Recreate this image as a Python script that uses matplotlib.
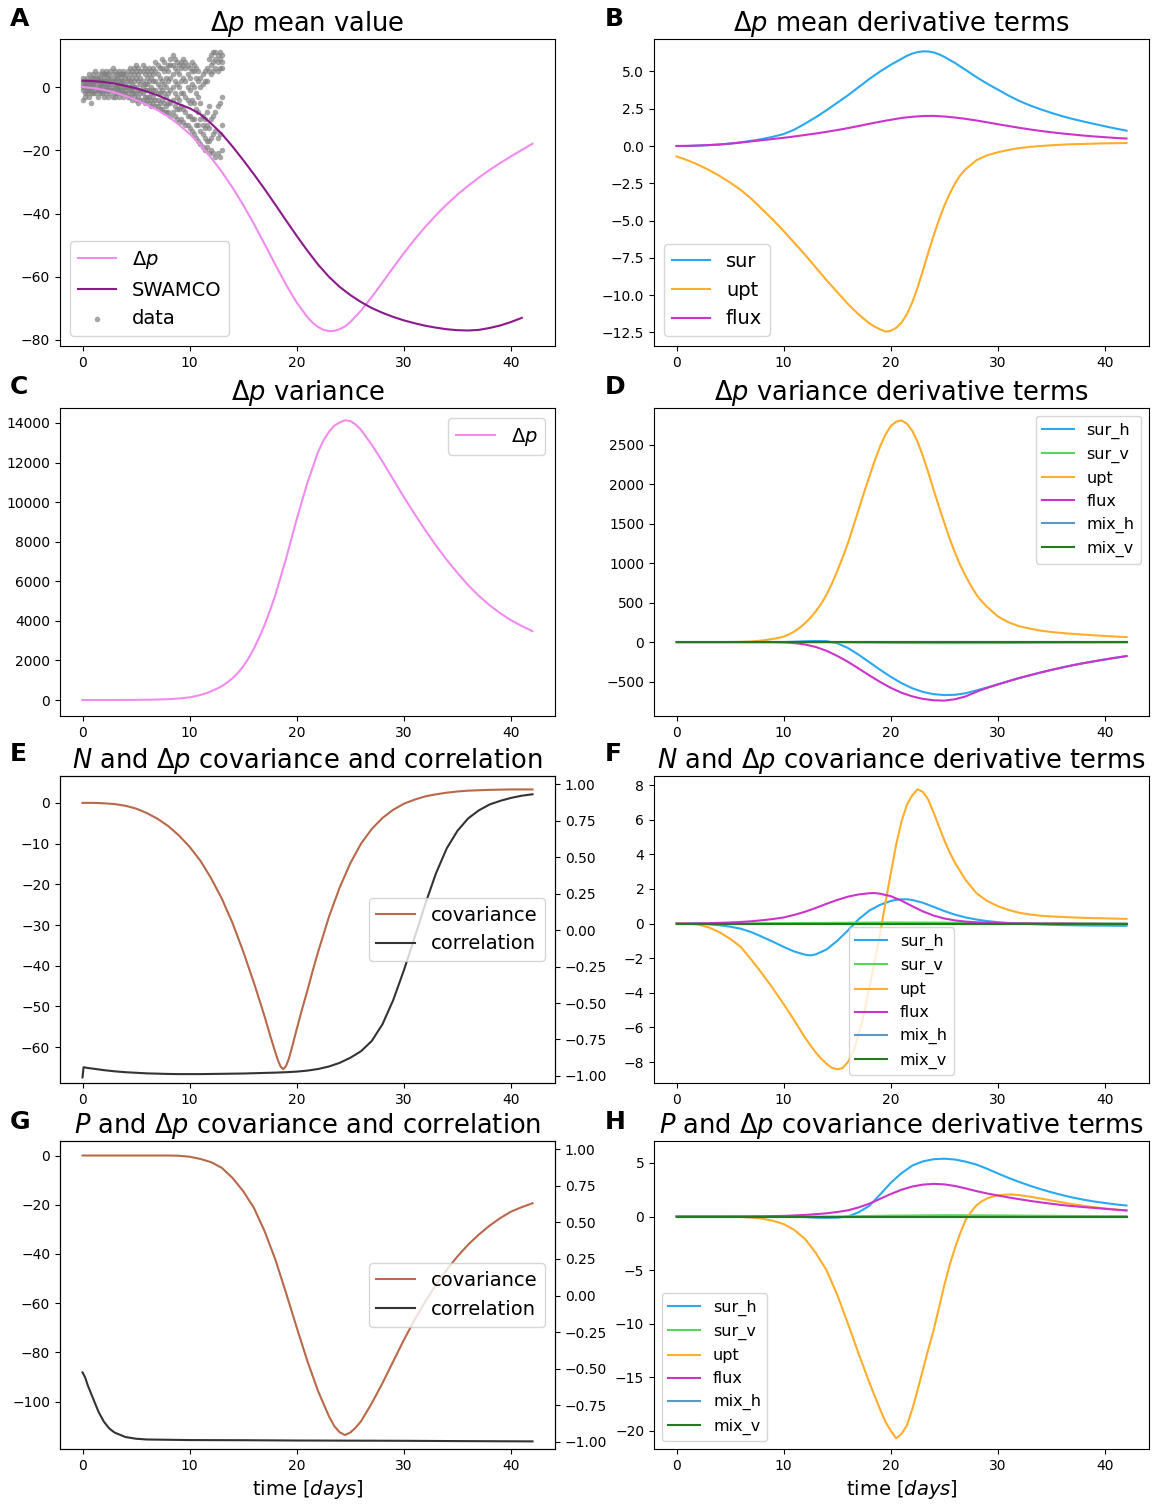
import numpy as np
import matplotlib.pyplot as plt

# time axis shared by the model outputs (days)
days = np.arange(0, 43)

# ---- A: mean value ----
dp_mean = [0, -0.3, -0.9, -1.7, -2.8, -4.1, -5.6, -7.3, -9.3, -11.9,
           -14.8, -18.3, -22.3, -26.8, -31.8, -37.3, -43.3, -49.7, -56.2, -62.5,
           -68.2, -72.8, -75.9, -77.2, -76.6, -74.3, -70.7, -66.4, -61.8, -57.1,
           -52.5, -48.2, -44.2, -40.5, -37.1, -34.0, -31.2, -28.6, -26.2, -24.0,
           -21.9, -19.9, -17.9]
dp_mean_extra = {21.5: -74.6, 22.5: -76.8, 23.5: -77.1, 24.5: -75.7}
swamco_t = np.arange(0, 42)
swamco = [2.0, 1.9, 1.6, 1.1, 0.4, -0.4, -1.4, -2.6, -4.0, -5.4,
          -6.7, -8.6, -11.5, -14.8, -18.8, -23.1, -27.6, -32.3, -37.2, -42.2,
          -47.1, -51.8, -56.2, -60.0, -63.2, -65.8, -68.0, -69.9, -71.4, -72.7,
          -73.8, -74.7, -75.5, -76.1, -76.6, -76.9, -77.0, -76.8, -76.2, -75.4,
          -74.3, -73.0]

# observations, sampled every 0.2 days over the first 13 days
obs_t = np.round(np.arange(0, 13.01, 0.2), 1)
obs_1 = [3, 2, 3, 4, 3, 4, 5, 4, 3, 5, 4, 5, 4, 5, 6, 5, 4, 5, 4, 5, 4, 5, 6, 5, 6, 7, 6, 5, 7, 6,
         5, 6, 5, 6, 8, 7, 6, 9, 8, 6, 7, 9, 10, 9, 8, 7, 8, 9, 8, 7, 6, 8, 7, 6, 5, 3, 4, 5, 6, 9,
         10, 11, 11, 10, 11, 10]
obs_2 = [2, 1, 2, 2, 2, 3, 3, 3, 2, 4, 3, 4, 3, 3, 4, 3, 3, 4, 3, 4, 3, 3, 4, 3, 4, 5, 4, 3, 5, 4,
         3, 4, 3, 4, 5, 4, 3, 6, 5, 3, 5, 7, 7, 6, 5, 4, 6, 7, 6, 4, 3, 5, 5, 3, 2, 0, 1, 2, 2, 5,
         7, 8, 9, 8, 9, 8]
obs_3 = [1, 1, 1, 1, 1, 2, 2, 2, 1, 2, 2, 2, 1, 2, 2, 2, 1, 2, 2, 2, 1, 2, 2, 1, 2, 3, 2, 1, 2, 1,
         1, 2, 0, 2, 2, 1, 0, 2, 1, 0, 2, 3, 4, 2, 1, 0, 2, 3, 2, 0, -1, 1, 0, -2, -3, -5, -9, -10, -8, -6,
         4, 5, 6, 5, 6, 6]
obs_4 = [0, 0, 0, 0, -1, 1, 1, 0, 0, 1, 1, 0, 0, 1, 0, 0, 0, 0, 1, 0, 0, 0, 0, -1, 0, 0, -1, -1, 0, -1,
         -1, -1, -2, -1, -1, -2, -2, -1, -2, -3, -2, -1, 0, -2, -3, -4, -2, -2, -3, -4, -5, -4, -5, -7, -8,
         -10, -12, -13, -12, -13, -10, -9, -8, -6, -5, -3]
obs_5 = [-1, -2, -1, -1, -2, 0, -1, -1, -1, 0, -1, -1, -1, -1, -1, -2, -1, -1, -1, -2, -1, -2, -1, -2,
         -2, -2, -3, -2, -2, -3, -3, -3, -4, -3, -4, -4, -5, -4, -5, -6, -5, -5, -4, -6, -7, -7, -6, -7,
         -8, -9, -9, -10, -10, -12, -12, -14, -15, -16, -17, -17, -16, -15, -14, -16, -15, -12]
obs_6 = [-4, -3, -2, -3, -5, -2, -2, -3, -2, -2, -3, -2, -3, -2, -3, -3, -2, -3, -2, -3, -2, -3, -3, -4,
         -3, -4, -5, -4, -4, -5, -4, -5, -6, -5, -6, -6, -7, -7, -8, -8, -8, -9, -8, -9, -10, -11, -10,
         -11, -12, -12, -13, -14, -15, -16, -17, -18, -19, -20, -19, -21, -20, -21, -22, -21, -22, -20]

# ---- B: mean derivative terms ----
b_sur = [0, 0.0, 0.03, 0.06, 0.1, 0.16, 0.25, 0.35, 0.47, 0.62,
         0.8, 1.1, 1.5, 1.93, 2.4, 2.9, 3.4, 3.95, 4.5, 5.0,
         5.45, 5.85, 6.2, 6.35, 6.28, 5.98, 5.57, 5.1, 4.62, 4.18,
         3.78, 3.38, 3.02, 2.72, 2.46, 2.22, 2.0, 1.81, 1.64, 1.48,
         1.32, 1.17, 1.03]
b_sur_extra = {21.5: 6.05, 22.5: 6.3, 23.5: 6.34, 24.5: 6.15}
b_upt = [-0.7, -0.95, -1.25, -1.6, -2.0, -2.45, -2.95, -3.55, -4.25, -4.95,
         -5.7, -6.5, -7.3, -8.15, -9.0, -9.8, -10.6, -11.3, -11.9, -12.3,
         -12.4, -11.85, -10.5, -8.35, -6.0, -4.0, -2.5, -1.55, -0.95, -0.62,
         -0.42, -0.26, -0.14, -0.06, 0.0, 0.05, 0.09, 0.12, 0.14, 0.16,
         0.18, 0.19, 0.2]
b_upt_extra = {18.5: -12.12, 19.5: -12.45, 20.5: -12.2, 21.5: -11.3, 22.5: -9.5,
               23.5: -7.15, 24.5: -4.95, 25.5: -3.2, 26.5: -1.95}
b_flux = [0, 0.01, 0.03, 0.06, 0.1, 0.16, 0.23, 0.31, 0.39, 0.47,
          0.55, 0.64, 0.74, 0.84, 0.95, 1.07, 1.2, 1.34, 1.49, 1.63,
          1.76, 1.88, 1.96, 2.01, 2.02, 1.98, 1.91, 1.82, 1.71, 1.59,
          1.46, 1.34, 1.22, 1.11, 1.01, 0.92, 0.84, 0.77, 0.7, 0.64,
          0.59, 0.54, 0.5]

# ---- C: variance ----
c_var = [0, 0, 1, 2, 4, 8, 14, 24, 42, 75,
         135, 250, 440, 700, 1100, 1700, 2600, 3800, 5300, 7150,
         9150, 11000, 12550, 13550, 14030, 14100, 13650, 12900, 12050, 11150,
         10250, 9400, 8580, 7800, 7080, 6420, 5800, 5260, 4790, 4380,
         4030, 3740, 3480]
c_var_extra = {11.5: 335, 12.5: 560, 13.5: 880, 14.5: 1370, 15.5: 2110, 16.5: 3170,
               17.5: 4520, 22.5: 13130, 23.5: 13860, 24.5: 14135, 25.5: 13920}

# ---- D: variance derivative terms ----
d_sur_h = [0, 0, 0, 0, 0, 0, 0, 0, 0, 0,
           0, 5, 10, 14, 12, -15, -75, -160, -255, -350,
           -440, -520, -585, -632, -660, -672, -668, -648, -612, -575,
           -535, -495, -455, -420, -385, -352, -322, -293, -267, -243,
           -220, -198, -178]
d_upt = [0, 0, 0, 0, 0, 1, 3, 8, 20, 40,
         70, 135, 240, 390, 600, 900, 1255, 1680, 2100, 2480,
         2740, 2810, 2680, 2360, 1930, 1510, 1130, 835, 600, 445,
         325, 250, 200, 170, 145, 128, 115, 104, 95, 86,
         77, 70, 63]
d_upt_extra = {9.5: 53, 10.5: 98, 11.5: 182, 12.5: 308, 13.5: 485, 14.5: 740, 15.5: 1070,
               16.5: 1465, 17.5: 1895, 18.5: 2300, 19.5: 2630, 20.5: 2795, 21.5: 2770,
               22.5: 2540, 23.5: 2150, 24.5: 1715, 25.5: 1310, 26.5: 970, 27.5: 710, 28.5: 515}
d_flux = [0, 0, 0, 0, 0, 0, 0, 0, 0, 0,
          -3, -12, -30, -62, -110, -175, -250, -335, -422, -505,
          -580, -642, -688, -720, -738, -742, -725, -688, -630, -580,
          -537, -495, -455, -420, -385, -352, -322, -293, -267, -243,
          -220, -198, -178]
d_sur_v_t = [0, 10, 15, 20, 25, 30, 35, 42]
d_sur_v = [0, 0, -3, -10, -14, -12, -8, -4]
d_mix_t = [0, 42]
d_mix_h = [0, 0]
d_mix_v = [0, 0]

# ---- E: N and dp covariance / correlation ----
e_cov = [0, 0, -0.1, -0.3, -0.7, -1.4, -2.5, -3.9, -5.7, -8.0,
         -10.8, -14.2, -18.5, -23.5, -29.5, -36.5, -44.2, -52.5, -61.3, -64.6,
         -55.5, -46.0, -36.5, -28.0, -20.8, -14.8, -10.0, -6.4, -3.7, -1.7,
         -0.2, 0.8, 1.6, 2.1, 2.5, 2.8, 3.0, 3.1, 3.2, 3.25,
         3.3, 3.3, 3.3]
e_cov_extra = {16.5: -48.3, 17.5: -57.0, 18.25: -63.3, 18.5: -64.8, 18.75: -65.4,
               19.25: -62.9, 19.5: -60.6, 20.5: -50.6, 21.5: -41.1}
e_cor_t = [0, 0.1, 0.5] + list(range(1, 43))
e_cor = [-1.01, -0.94, -0.945, -0.95, -0.96, -0.968, -0.974, -0.978, -0.982, -0.984,
         -0.986, -0.987, -0.987, -0.987, -0.986, -0.985, -0.984, -0.983, -0.981, -0.979,
         -0.977, -0.974, -0.97, -0.963, -0.952, -0.935, -0.91, -0.875, -0.83, -0.76,
         -0.645, -0.48, -0.275, -0.05, 0.18, 0.39, 0.56, 0.68, 0.765, 0.82,
         0.86, 0.885, 0.905, 0.92, 0.93]

# ---- F: N and dp covariance derivative terms ----
f_sur_h = [0, 0, -0.01, -0.04, -0.1, -0.18, -0.3, -0.5, -0.77, -1.05,
           -1.35, -1.62, -1.8, -1.78, -1.5, -1.0, -0.4, 0.25, 0.75, 1.08,
           1.3, 1.4, 1.36, 1.2, 0.96, 0.72, 0.51, 0.35, 0.23, 0.14,
           0.08, 0.03, 0.0, -0.03, -0.05, -0.07, -0.09, -0.1, -0.11, -0.12,
           -0.12, -0.13, -0.13]
f_sur_h_extra = {12.5: -1.84, 20.5: 1.37, 21.5: 1.4}
f_upt = [0, 0, -0.06, -0.22, -0.5, -0.88, -1.35, -2.1, -2.9, -3.75,
         -4.65, -5.6, -6.6, -7.45, -8.1, -8.42, -8.0, -6.4, -3.7, -0.6,
         2.9, 5.9, 7.4, 7.6, 6.4, 4.8, 3.5, 2.5, 1.75, 1.3,
         1.0, 0.78, 0.62, 0.52, 0.45, 0.41, 0.38, 0.35, 0.33, 0.31,
         0.3, 0.28, 0.27]
f_upt_extra = {13.5: -7.8, 14.5: -8.33, 15.5: -8.35, 16.5: -7.4, 17.5: -5.2, 18.5: -2.2,
               19.5: 1.2, 20.5: 4.55, 21.5: 6.85, 22.5: 7.75, 23.5: 7.15, 24.5: 5.6, 25.5: 4.1}
f_flux = [0, 0, 0.01, 0.02, 0.04, 0.06, 0.09, 0.13, 0.19, 0.26,
          0.35, 0.5, 0.68, 0.9, 1.14, 1.36, 1.55, 1.68, 1.75, 1.72,
          1.58, 1.32, 1.0, 0.7, 0.46, 0.29, 0.18, 0.11, 0.07, 0.05,
          0.03, 0.02, 0.01, 0.01, 0, 0, 0, 0, -0.01, -0.01,
          -0.02, -0.02, -0.02]
f_flux_extra = {18.5: 1.76}
f_sur_v_t = [0, 10, 20, 25, 30, 42]
f_sur_v = [0, 0.02, 0.06, 0.05, 0.02, 0.0]
f_mix_t = [0, 42]
f_mix_h = [0, 0]
f_mix_v = [0, 0]

# ---- G: P and dp covariance / correlation ----
g_cov = [0, 0, 0, 0, 0, 0, 0, 0, 0, -0.1,
         -0.5, -1.4, -2.7, -5.0, -9.1, -14.5, -21.3, -30.8, -42.3, -55.9,
         -70.0, -83.7, -95.9, -106.0, -112.5, -112.6, -108.0, -100.7, -92.5, -83.7,
         -74.9, -66.8, -59.3, -52.5, -46.4, -41.0, -36.2, -32.1, -28.5, -25.4,
         -22.8, -21.0, -19.4]
g_cov_extra = {23.5: -110.0, 24.5: -113.6, 25.5: -110.6}
g_cor_t = [0, 0.25, 0.5, 1, 1.5, 2, 2.5, 3, 4, 5, 6, 8, 10, 15, 20, 25, 30, 35, 42]
g_cor = [-0.525, -0.56, -0.615, -0.705, -0.795, -0.862, -0.908, -0.936, -0.966, -0.978,
         -0.983, -0.985, -0.987, -0.988, -0.99, -0.991, -0.992, -0.994, -0.996]

# ---- H: P and dp covariance derivative terms ----
h_sur_h = [0, 0, 0, 0, 0, 0, 0, 0, 0, 0,
           0, 0, -0.05, -0.1, -0.12, -0.1, 0.0, 0.4, 1.0, 2.05,
           3.15, 4.05, 4.75, 5.15, 5.35, 5.4, 5.32, 5.12, 4.85, 4.45,
           4.02, 3.6, 3.22, 2.87, 2.55, 2.26, 2.0, 1.77, 1.57, 1.4,
           1.26, 1.13, 1.03]
h_upt = [0, 0, 0, 0, 0, -0.01, -0.04, -0.1, -0.2, -0.4,
         -0.7, -1.25, -2.1, -3.4, -5.0, -7.3, -10.0, -12.8, -15.5, -18.0,
         -20.0, -20.3, -18.0, -14.3, -10.6, -6.4, -2.9, -0.3, 1.05, 1.7,
         1.98, 2.05, 2.0, 1.85, 1.68, 1.5, 1.32, 1.15, 1.0, 0.87,
         0.75, 0.65, 0.56]
h_upt_extra = {19.5: -19.15, 20.5: -20.7, 21.5: -19.5, 22.5: -16.2, 23.5: -12.4,
               24.5: -8.5, 25.5: -4.5, 26.5: -1.5, 27.5: 0.45, 28.5: 1.42,
               29.5: 1.86, 30.5: 2.03, 31.5: 2.04}
h_flux = [0, 0, 0, 0, 0, 0, 0, 0.01, 0.02, 0.04,
          0.06, 0.1, 0.15, 0.22, 0.3, 0.42, 0.58, 0.85, 1.2, 1.65,
          2.1, 2.5, 2.8, 2.98, 3.05, 3.0, 2.85, 2.62, 2.37, 2.15,
          1.96, 1.78, 1.62, 1.46, 1.32, 1.19, 1.07, 0.97, 0.88, 0.8,
          0.72, 0.64, 0.57]
h_sur_v_t = [0, 15, 20, 25, 30, 35, 42]
h_sur_v = [0, 0, 0.08, 0.12, 0.1, 0.06, 0.03]
h_mix_t = [0, 42]
h_mix_h = [0, 0]
h_mix_v = [0, 0]

# colours
c_dp = '#f08cf0'
c_swamco = '#8a1a8a'
c_sur = '#2aa8f2'
c_surv = '#55d855'
c_upt = '#ffad2a'
c_flux = '#cc33cc'
c_mixh = '#5b97c8'
c_mixv = '#237a23'
c_cov = '#b8694a'
c_cor = '#333333'


def merged(t, v, extra):
    # daily values plus the half-day samples taken around sharp features
    pts = sorted(list(zip(t, v)) + list(extra.items()))
    return [p[0] for p in pts], [p[1] for p in pts]


W, H = 1153, 1506
fig = plt.figure(figsize=(W / 100, H / 100), dpi=100)


def box(l, t, r, b):
    return [l / W, 1 - b / H, (r - l) / W, (b - t) / H]


cols = [(60, 555), (654, 1149)]
rows = [(39, 346), (408, 716), (776, 1083), (1141, 1449)]
axs = {}
for i, (t, b) in enumerate(rows):
    for j, (l, r) in enumerate(cols):
        axs['ABCDEFGH'[2 * i + j]] = fig.add_axes(box(l, t, r, b))

TFS = 18.5
LW = 1.5
for k, ax in axs.items():
    ax.set_xlim(-2.1, 44.1)
    ax.set_xticks([0, 10, 20, 30, 40])


def terms(ax, parts):
    for x, y, c, lab in parts:
        ax.plot(x, y, color=c, lw=LW, label=lab)


# A
ax = axs['A']
ax.plot(*merged(days, dp_mean, dp_mean_extra), color=c_dp, lw=LW, label=r'$\Delta p$')
ax.plot(swamco_t, swamco, color=c_swamco, lw=LW, label='SWAMCO')
obs_x = np.concatenate([obs_t] * 6)
obs_y = np.concatenate([obs_1, obs_2, obs_3, obs_4, obs_5, obs_6])
ax.scatter(obs_x, obs_y, s=16, color='gray', alpha=0.7, lw=0, label='data')
ax.set_ylim(-81.9, 15.2)
ax.set_yticks([0, -20, -40, -60, -80])
ax.set_title(r'$\Delta p$ mean value', fontsize=TFS)
ax.legend(loc='lower left', fontsize=14)

# B
ax = axs['B']
terms(ax, [(*merged(days, b_sur, b_sur_extra), c_sur, 'sur'),
           (*merged(days, b_upt, b_upt_extra), c_upt, 'upt'),
           (days, b_flux, c_flux, 'flux')])
ax.set_ylim(-13.42, 7.18)
ax.set_yticks([5.0, 2.5, 0.0, -2.5, -5.0, -7.5, -10.0, -12.5])
ax.set_title(r'$\Delta p$ mean derivative terms', fontsize=TFS)
ax.legend(loc='lower left', fontsize=14)

# C
ax = axs['C']
ax.plot(*merged(days, c_var, c_var_extra), color=c_dp, lw=LW, label=r'$\Delta p$')
ax.set_ylim(-808, 14758)
ax.set_yticks(range(0, 14001, 2000))
ax.set_title(r'$\Delta p$ variance', fontsize=TFS)
ax.legend(loc='upper right', fontsize=14)

# D
ax = axs['D']
terms(ax, [(days, d_sur_h, c_sur, 'sur_h'), (d_sur_v_t, d_sur_v, c_surv, 'sur_v'),
           (*merged(days, d_upt, d_upt_extra), c_upt, 'upt'), (days, d_flux, c_flux, 'flux'),
           (d_mix_t, d_mix_h, c_mixh, 'mix_h'), (d_mix_t, d_mix_v, c_mixv, 'mix_v')])
ax.set_ylim(-937, 2968)
ax.set_yticks(range(-500, 2501, 500))
ax.set_title(r'$\Delta p$ variance derivative terms', fontsize=TFS)
ax.legend(loc='upper right', fontsize=11.5)


def cov_cor(ax, ct, cv, rt, rv, ylim, yt, title):
    l1, = ax.plot(ct, cv, color=c_cov, lw=LW, label='covariance')
    ax.set_ylim(*ylim)
    ax.set_yticks(yt)
    tw = ax.twinx()
    tw.set_xlim(-2.1, 44.1)
    l2, = tw.plot(rt, rv, color=c_cor, lw=LW, label='correlation')
    tw.set_ylim(-1.048, 1.055)
    tw.set_yticks(np.arange(-1.0, 1.01, 0.25))
    tw.legend([l1, l2], ['covariance', 'correlation'], loc='center right', fontsize=14)
    ax.set_title(title, fontsize=TFS)


# E
cov_cor(axs['E'], *merged(days, e_cov, e_cov_extra), e_cor_t, e_cor, (-68.8, 6.6),
        range(-60, 1, 10), r'$N$ and $\Delta p$ covariance and correlation')

# F
ax = axs['F']
terms(ax, [(*merged(days, f_sur_h, f_sur_h_extra), c_sur, 'sur_h'),
           (f_sur_v_t, f_sur_v, c_surv, 'sur_v'),
           (*merged(days, f_upt, f_upt_extra), c_upt, 'upt'),
           (*merged(days, f_flux, f_flux_extra), c_flux, 'flux'),
           (f_mix_t, f_mix_h, c_mixh, 'mix_h'), (f_mix_t, f_mix_v, c_mixv, 'mix_v')])
ax.set_ylim(-9.21, 8.52)
ax.set_yticks(range(-8, 9, 2))
ax.set_title(r'$N$ and $\Delta p$ covariance derivative terms', fontsize=TFS)
ax.legend(loc='lower center', fontsize=11.5)

# G
cov_cor(axs['G'], *merged(days, g_cov, g_cov_extra), g_cor_t, g_cor, (-119.3, 5.9),
        range(-100, 1, 20), r'$P$ and $\Delta p$ covariance and correlation')
axs['G'].set_xlabel(r'time [$days$]', fontsize=14)

# H
ax = axs['H']
terms(ax, [(days, h_sur_h, c_sur, 'sur_h'), (h_sur_v_t, h_sur_v, c_surv, 'sur_v'),
           (*merged(days, h_upt, h_upt_extra), c_upt, 'upt'), (days, h_flux, c_flux, 'flux'),
           (h_mix_t, h_mix_h, c_mixh, 'mix_h'), (h_mix_t, h_mix_v, c_mixv, 'mix_v')])
ax.set_ylim(-21.7, 7.05)
ax.set_yticks([5, 0, -5, -10, -15, -20])
ax.set_title(r'$P$ and $\Delta p$ covariance derivative terms', fontsize=TFS)
ax.set_xlabel(r'time [$days$]', fontsize=14)
ax.legend(loc='lower left', fontsize=11.5)

# panel letters
for k, (x, y) in zip('ABCDEFGH', [(10, 26), (605, 26), (10, 394), (605, 394),
                                  (10, 761), (605, 761), (10, 1129), (605, 1129)]):
    fig.text(x / W, 1 - y / H, k, fontsize=18, fontweight='bold', va='baseline')

fig.savefig('out.png', dpi=100)
